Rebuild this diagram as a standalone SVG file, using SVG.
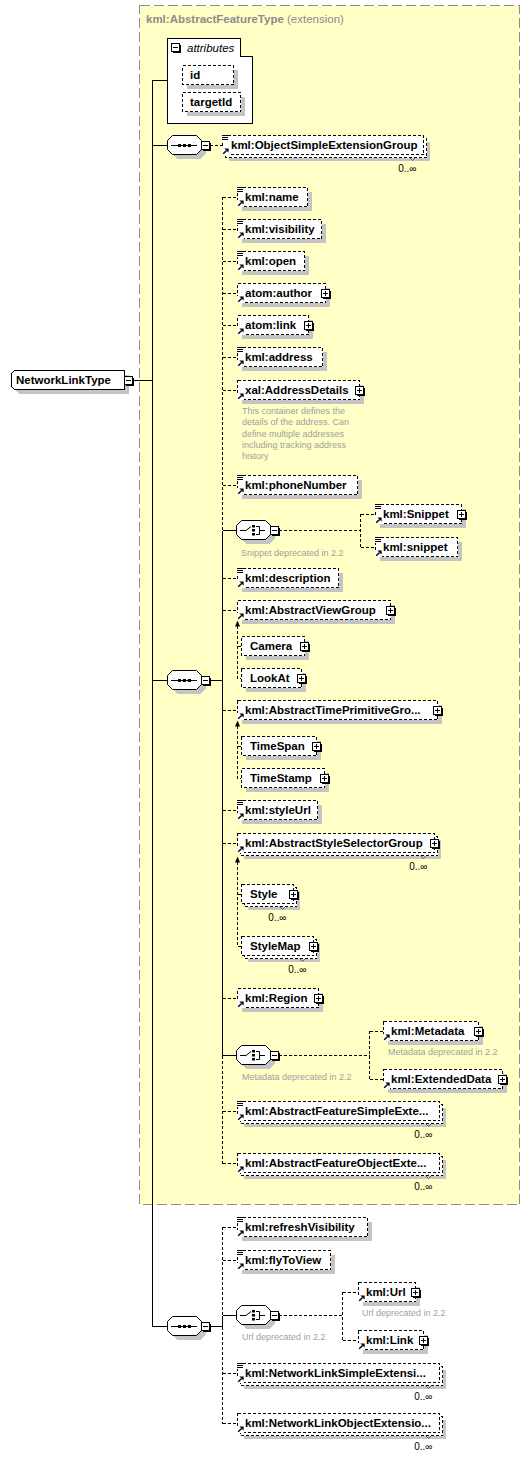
<svg xmlns="http://www.w3.org/2000/svg" width="530" height="1459" viewBox="0 0 530 1459">
<style>
.ext{fill:#ffffc6;stroke:#8c8c8c;stroke-dasharray:10 4;shape-rendering:crispEdges}
.sh{fill:#c4c4c4;shape-rendering:crispEdges}
.el{fill:#fff;stroke:#000;stroke-dasharray:3 2;shape-rendering:crispEdges}
.sol{fill:#fff;stroke:#000;shape-rendering:crispEdges}
.oct{fill:#fff;stroke:#000}
.t{font-family:"Liberation Sans",Arial,sans-serif;font-size:11.5px;font-weight:bold;fill:#000}
.ti{font-family:"Liberation Sans",Arial,sans-serif;font-size:11.5px;font-style:italic;fill:#000}
.hd{font-family:"Liberation Sans",Arial,sans-serif;font-size:11.5px;fill:#8c8c8c}
.n{font-family:"Liberation Sans",Arial,sans-serif;font-size:9px;fill:#a0a0a0}
.m{font-family:"Liberation Sans",Arial,sans-serif;font-size:10px;fill:#000;text-anchor:end}
.c{fill:none;stroke:#000;shape-rendering:crispEdges}
.d{fill:none;stroke:#000;stroke-dasharray:3 2;shape-rendering:crispEdges}
.nt{fill:none;stroke:#444;stroke-width:0.8}
</style>
<defs>
<g id="pl"><rect x="0.5" y="0.5" width="8" height="8" fill="#fff" stroke="#000" shape-rendering="crispEdges"/><path d="M1.5,9.5H9.5V1.5" fill="none" stroke="#000" shape-rendering="crispEdges"/><path d="M2,4.5H7M4.5,2V7" stroke="#000" shape-rendering="crispEdges"/></g>
<g id="mi"><rect x="0.5" y="0.5" width="8" height="8" fill="#fff" stroke="#000" shape-rendering="crispEdges"/><path d="M1.5,9.5H9.5V1.5" fill="none" stroke="#000" shape-rendering="crispEdges"/><path d="M2,4.5H7" stroke="#000" shape-rendering="crispEdges"/></g>
<g id="ie"><rect x="0" y="0" width="7" height="6" fill="#fff"/><path d="M0,0.5H7M0,2.5H6M0,4.5H6" stroke="#000" shape-rendering="crispEdges"/></g>
<g id="ia"><rect x="0" y="-7" width="7" height="7" fill="#fff"/><path d="M1.2,-1.2L4.6,-4.6" stroke="#000" stroke-width="1.4"/><path d="M2.4,-6.6H6.6V-2.4Z" fill="#000"/></g>
</defs>
<rect x="0" y="0" width="530" height="1459" fill="#fff"/>

<g id="extension">
<rect class="ext" x="139.5" y="5.5" width="380" height="1199"/>
<text x="146" y="23" class="hd"><tspan font-weight="bold">kml:AbstractFeatureType</tspan> (extension)</text>
</g>

<g id="connectors">
<path class="c" d="M152.5,80V1327M153,80.5H167M153,145.5H167M153,680.5H167M153,1326.5H167M133,380.5H152"/>
<path class="d" d="M210,145.5H222"/>
<path class="c" d="M210,680.5H222.5M222.5,530.5V1055.5M223,530.5H236.5M223,1055.5H236.5"/>
<path class="d" d="M222.5,197V530M222.5,1056V1163.5"/>
<path class="d" d="M223,197.5H237M223,229.5H237M223,261.5H237M223,293.5H237M223,325.5H237M223,357.5H237M223,390.5H237M223,485.5H237M223,578.5H237M223,610.5H237M223,710.5H237M223,810.5H237M223,843.5H237M223,998.5H237M223,1111.5H237M223,1163.5H237"/>
<path class="d" d="M279,530.5H360.5M360.5,514V547.5M361,514.5H375M361,547.5H375"/>
<path class="d" d="M279,1055.5H369.5M369.5,1031V1079.5M370,1031.5H383M370,1079.5H383"/>
<path class="c" d="M210,1326.5H222.5M222.5,1315.5V1326.5M223,1315.5H236.5"/>
<path class="d" d="M222.5,1227V1315M222.5,1327V1423.5M223,1227.5H237M223,1260.5H237M223,1373.5H237M223,1423.5H237"/>
<path class="d" d="M279,1315.5H342.5M342.5,1292V1340.5M343,1292.5H358M343,1340.5H358"/>
<path class="d" d="M237.5,626V678.5H241M238,646.5H241"/>
<polygon points="235,626.5 240,626.5 237.5,620.5" fill="#000"/>
<path class="d" d="M237.5,726V778.5H241M238,746.5H241"/>
<polygon points="235,726.5 240,726.5 237.5,720.5" fill="#000"/>
<path class="d" d="M237.5,862V946.5H241M238,894.5H241"/>
<polygon points="235,862.5 240,862.5 237.5,856.5" fill="#000"/>
</g>

<g id="NetworkLinkType">
<path class="sh" d="M18.5,374.5H128.5V393.5H18.5L15.5,390.5V377.5Z"/>
<path class="sol" d="M14.5,370.5H124.5V389.5H14.5L11.5,386.5V373.5Z"/>
<text class="t" x="16" y="384">NetworkLinkType</text>
<use href="#mi" x="124" y="376"/>
</g>

<g id="attributes">
<path class="sol" d="M167.5,38.5H240.5V56.5H252.5V123.5H167.5Z"/>
<use href="#mi" x="171" y="43"/>
<text class="ti" x="187" y="52">attributes</text>
</g>
<g id="attr-id">
<rect class="sh" x="186.5" y="69.5" width="51" height="19"/>
<rect class="el" x="182.5" y="65.5" width="51" height="19"/>
<text class="t" x="190" y="79">id</text>
</g>
<g id="attr-targetId">
<rect class="sh" x="186.5" y="96.5" width="58" height="19"/>
<rect class="el" x="182.5" y="92.5" width="58" height="19"/>
<text class="t" x="190" y="106">targetId</text>
</g>

<g id="seq1">
<path class="sh" d="M176.5,139.5H200.5L205.5,144.5V153.5L200.5,158.5H176.5L171.5,153.5V144.5Z"/>
<path class="oct" d="M172.5,135.5H196.5L201.5,140.5V149.5L196.5,154.5H172.5L167.5,149.5V140.5Z"/>
<path class="c" d="M171,145.5H197"/>
<rect x="178" y="144" width="3" height="3"/><rect x="183" y="144" width="3" height="3"/><rect x="188" y="144" width="3" height="3"/>
<use href="#mi" x="201" y="141"/>
</g>

<g id="ObjectSimpleExtensionGroup">
<rect class="sh" x="228.5" y="141.5" width="201" height="19"/>
<rect class="el" x="225.5" y="138.5" width="201" height="19"/>
<rect class="el" x="222.5" y="135.5" width="201" height="19"/>
<use href="#ie" x="222" y="135"/><use href="#ia" x="222" y="155"/>
<text class="t" x="231" y="149">kml:ObjectSimpleExtensionGroup</text>
<path class="nt" d="M409.5,157.5L412.5,160.5L415.5,157.5"/>
<text class="m" x="416.5" y="172">0..∞</text>
</g>

<g id="seq2">
<path class="sh" d="M176.5,674.5H200.5L205.5,679.5V688.5L200.5,693.5H176.5L171.5,688.5V679.5Z"/>
<path class="oct" d="M172.5,670.5H196.5L201.5,675.5V684.5L196.5,689.5H172.5L167.5,684.5V675.5Z"/>
<path class="c" d="M171,680.5H197"/>
<rect x="178" y="679" width="3" height="3"/><rect x="183" y="679" width="3" height="3"/><rect x="188" y="679" width="3" height="3"/>
<use href="#mi" x="201" y="676"/>
</g>

<g id="kml-name">
<rect class="sh" x="241.5" y="191.5" width="70" height="19"/><rect class="el" x="237.5" y="187.5" width="70" height="19"/>
<use href="#ie" x="237" y="187"/><use href="#ia" x="237" y="207"/>
<text class="t" x="245" y="201">kml:name</text>
</g>
<g id="kml-visibility">
<rect class="sh" x="241.5" y="223.5" width="84" height="19"/><rect class="el" x="237.5" y="219.5" width="84" height="19"/>
<use href="#ie" x="237" y="219"/><use href="#ia" x="237" y="239"/>
<text class="t" x="245" y="233">kml:visibility</text>
</g>
<g id="kml-open">
<rect class="sh" x="241.5" y="255.5" width="67" height="19"/><rect class="el" x="237.5" y="251.5" width="67" height="19"/>
<use href="#ie" x="237" y="251"/><use href="#ia" x="237" y="271"/>
<text class="t" x="245" y="265">kml:open</text>
</g>
<g id="atom-author">
<rect class="sh" x="241.5" y="287.5" width="88" height="19"/><rect class="el" x="237.5" y="283.5" width="88" height="19"/>
<use href="#ia" x="237" y="303"/>
<text class="t" x="245" y="297">atom:author</text>
<use href="#pl" x="321" y="289"/>
</g>
<g id="atom-link">
<rect class="sh" x="241.5" y="319.5" width="71" height="19"/><rect class="el" x="237.5" y="315.5" width="71" height="19"/>
<use href="#ia" x="237" y="335"/>
<text class="t" x="245" y="329">atom:link</text>
<use href="#pl" x="304" y="321"/>
</g>
<g id="kml-address">
<rect class="sh" x="241.5" y="351.5" width="85" height="19"/><rect class="el" x="237.5" y="347.5" width="85" height="19"/>
<use href="#ie" x="237" y="347"/><use href="#ia" x="237" y="367"/>
<text class="t" x="245" y="361">kml:address</text>
</g>
<g id="xal-AddressDetails">
<rect class="sh" x="241.5" y="384.5" width="122" height="19"/><rect class="el" x="237.5" y="380.5" width="122" height="19"/>
<use href="#ia" x="237" y="400"/>
<text class="t" x="245" y="394">xal:AddressDetails</text>
<use href="#pl" x="355" y="386"/>
<text class="n" x="242" y="414">This container defines the</text>
<text class="n" x="242" y="425.3">details of the address. Can</text>
<text class="n" x="242" y="436.6">define multiple addresses</text>
<text class="n" x="242" y="447.9">including tracking address</text>
<text class="n" x="242" y="459.2">history</text>
</g>
<g id="kml-phoneNumber">
<rect class="sh" x="241.5" y="479.5" width="120" height="19"/><rect class="el" x="237.5" y="475.5" width="120" height="19"/>
<use href="#ie" x="237" y="475"/><use href="#ia" x="237" y="495"/>
<text class="t" x="245" y="489">kml:phoneNumber</text>
</g>

<g id="choice1">
<path class="sh" d="M245.5,524.5H269.5L274.5,529.5V538.5L269.5,543.5H245.5L240.5,538.5V529.5Z"/>
<path class="oct" d="M241.5,520.5H265.5L270.5,525.5V534.5L265.5,539.5H241.5L236.5,534.5V525.5Z"/>
<path d="M240,530.5H246L251,526.5M256,526.5H259.5V534.5H256M259.5,530.5H265" fill="none" stroke="#000"/>
<rect x="252" y="525" width="3" height="2.5"/><rect x="252" y="529" width="3" height="2.5"/><rect x="252" y="533" width="3" height="2.5"/>
<use href="#mi" x="270" y="526"/>
<text class="n" x="241" y="556">Snippet deprecated in 2.2</text>
</g>
<g id="kml-Snippet">
<rect class="sh" x="379.5" y="508.5" width="86" height="19"/><rect class="el" x="375.5" y="504.5" width="86" height="19"/>
<use href="#ie" x="375" y="504"/><use href="#ia" x="375" y="524"/>
<text class="t" x="383" y="518">kml:Snippet</text>
<use href="#pl" x="457" y="510"/>
</g>
<g id="kml-snippet">
<rect class="sh" x="379.5" y="541.5" width="82" height="19"/><rect class="el" x="375.5" y="537.5" width="82" height="19"/>
<use href="#ie" x="375" y="537"/><use href="#ia" x="375" y="557"/>
<text class="t" x="383" y="551">kml:snippet</text>
</g>

<g id="kml-description">
<rect class="sh" x="241.5" y="572.5" width="101" height="19"/><rect class="el" x="237.5" y="568.5" width="101" height="19"/>
<use href="#ie" x="237" y="568"/><use href="#ia" x="237" y="588"/>
<text class="t" x="245" y="582">kml:description</text>
</g>
<g id="kml-AbstractViewGroup">
<rect class="sh" x="241.5" y="604.5" width="153" height="19"/><rect class="el" x="237.5" y="600.5" width="153" height="19"/>
<use href="#ia" x="237" y="620"/>
<text class="t" x="245" y="614">kml:AbstractViewGroup</text>
<use href="#pl" x="386" y="606"/>
</g>
<g id="Camera">
<rect class="sh" x="245.5" y="640.5" width="63" height="19"/><rect class="el" x="241.5" y="636.5" width="63" height="19"/>
<text class="t" x="250" y="650">Camera</text>
<use href="#pl" x="300" y="642"/>
</g>
<g id="LookAt">
<rect class="sh" x="245.5" y="672.5" width="60" height="19"/><rect class="el" x="241.5" y="668.5" width="60" height="19"/>
<text class="t" x="250" y="682">LookAt</text>
<use href="#pl" x="297" y="674"/>
</g>
<g id="kml-AbstractTimePrimitiveGroup">
<rect class="sh" x="241.5" y="704.5" width="200" height="19"/><rect class="el" x="237.5" y="700.5" width="200" height="19"/>
<use href="#ia" x="237" y="720"/>
<text class="t" x="245" y="714">kml:AbstractTimePrimitiveGro...</text>
<use href="#pl" x="433" y="706"/>
</g>
<g id="TimeSpan">
<rect class="sh" x="245.5" y="740.5" width="75" height="19"/><rect class="el" x="241.5" y="736.5" width="75" height="19"/>
<text class="t" x="250" y="750">TimeSpan</text>
<use href="#pl" x="312" y="742"/>
</g>
<g id="TimeStamp">
<rect class="sh" x="245.5" y="772.5" width="83" height="19"/><rect class="el" x="241.5" y="768.5" width="83" height="19"/>
<text class="t" x="250" y="782">TimeStamp</text>
<use href="#pl" x="320" y="774"/>
</g>
<g id="kml-styleUrl">
<rect class="sh" x="241.5" y="804.5" width="80" height="19"/><rect class="el" x="237.5" y="800.5" width="80" height="19"/>
<use href="#ie" x="237" y="800"/><use href="#ia" x="237" y="820"/>
<text class="t" x="245" y="814">kml:styleUrl</text>
</g>
<g id="kml-AbstractStyleSelectorGroup">
<rect class="sh" x="243.5" y="839.5" width="197" height="19"/>
<rect class="el" x="240.5" y="836.5" width="197" height="19"/>
<rect class="el" x="237.5" y="833.5" width="197" height="19"/>
<use href="#ia" x="237" y="853"/>
<text class="t" x="245" y="847">kml:AbstractStyleSelectorGroup</text>
<use href="#pl" x="430" y="839"/>
<path class="nt" d="M420.5,855.5L423.5,858.5L426.5,855.5"/>
<text class="m" x="427.5" y="870">0..∞</text>
</g>
<g id="Style">
<rect class="sh" x="247.5" y="890.5" width="52" height="19"/>
<rect class="el" x="244.5" y="887.5" width="52" height="19"/>
<rect class="el" x="241.5" y="884.5" width="52" height="19"/>
<text class="t" x="250" y="898">Style</text>
<use href="#pl" x="289" y="890"/>
<path class="nt" d="M279.5,906.5L282.5,909.5L285.5,906.5"/>
<text class="m" x="286.5" y="921">0..∞</text>
</g>
<g id="StyleMap">
<rect class="sh" x="247.5" y="942.5" width="72" height="19"/>
<rect class="el" x="244.5" y="939.5" width="72" height="19"/>
<rect class="el" x="241.5" y="936.5" width="72" height="19"/>
<text class="t" x="250" y="950">StyleMap</text>
<use href="#pl" x="309" y="942"/>
<path class="nt" d="M299.5,958.5L302.5,961.5L305.5,958.5"/>
<text class="m" x="306.5" y="973">0..∞</text>
</g>
<g id="kml-Region">
<rect class="sh" x="241.5" y="992.5" width="81" height="19"/><rect class="el" x="237.5" y="988.5" width="81" height="19"/>
<use href="#ia" x="237" y="1008"/>
<text class="t" x="245" y="1002">kml:Region</text>
<use href="#pl" x="314" y="994"/>
</g>

<g id="choice2">
<path class="sh" d="M245.5,1049.5H269.5L274.5,1054.5V1063.5L269.5,1068.5H245.5L240.5,1063.5V1054.5Z"/>
<path class="oct" d="M241.5,1045.5H265.5L270.5,1050.5V1059.5L265.5,1064.5H241.5L236.5,1059.5V1050.5Z"/>
<path d="M240,1055.5H246L251,1051.5M256,1051.5H259.5V1059.5H256M259.5,1055.5H265" fill="none" stroke="#000"/>
<rect x="252" y="1050" width="3" height="2.5"/><rect x="252" y="1054" width="3" height="2.5"/><rect x="252" y="1058" width="3" height="2.5"/>
<use href="#mi" x="270" y="1051"/>
<text class="n" x="242" y="1080">Metadata deprecated in 2.2</text>
</g>
<g id="kml-Metadata">
<rect class="sh" x="387.5" y="1025.5" width="95" height="19"/><rect class="el" x="383.5" y="1021.5" width="95" height="19"/>
<use href="#ia" x="383" y="1041"/>
<text class="t" x="391" y="1035">kml:Metadata</text>
<use href="#pl" x="474" y="1027"/>
<text class="n" x="388" y="1055">Metadata deprecated in 2.2</text>
</g>
<g id="kml-ExtendedData">
<rect class="sh" x="387.5" y="1073.5" width="119" height="19"/><rect class="el" x="383.5" y="1069.5" width="119" height="19"/>
<use href="#ia" x="383" y="1089"/>
<text class="t" x="391" y="1083">kml:ExtendedData</text>
<use href="#pl" x="498" y="1075"/>
</g>

<g id="kml-AbstractFeatureSimpleExtensionGroup">
<rect class="sh" x="243.5" y="1107.5" width="202" height="19"/>
<rect class="el" x="240.5" y="1104.5" width="202" height="19"/>
<rect class="el" x="237.5" y="1101.5" width="202" height="19"/>
<use href="#ie" x="237" y="1101"/><use href="#ia" x="237" y="1121"/>
<text class="t" x="245" y="1115">kml:AbstractFeatureSimpleExte...</text>
<path class="nt" d="M425.5,1123.5L428.5,1126.5L431.5,1123.5"/>
<text class="m" x="432.5" y="1138">0..∞</text>
</g>
<g id="kml-AbstractFeatureObjectExtensionGroup">
<rect class="sh" x="243.5" y="1159.5" width="202" height="19"/>
<rect class="el" x="240.5" y="1156.5" width="202" height="19"/>
<rect class="el" x="237.5" y="1153.5" width="202" height="19"/>
<use href="#ia" x="237" y="1173"/>
<text class="t" x="245" y="1167">kml:AbstractFeatureObjectExte...</text>
<path class="nt" d="M425.5,1175.5L428.5,1178.5L431.5,1175.5"/>
<text class="m" x="432.5" y="1190">0..∞</text>
</g>

<g id="seq3">
<path class="sh" d="M176.5,1320.5H200.5L205.5,1325.5V1334.5L200.5,1339.5H176.5L171.5,1334.5V1325.5Z"/>
<path class="oct" d="M172.5,1316.5H196.5L201.5,1321.5V1330.5L196.5,1335.5H172.5L167.5,1330.5V1321.5Z"/>
<path class="c" d="M171,1326.5H197"/>
<rect x="178" y="1325" width="3" height="3"/><rect x="183" y="1325" width="3" height="3"/><rect x="188" y="1325" width="3" height="3"/>
<use href="#mi" x="201" y="1322"/>
</g>
<g id="kml-refreshVisibility">
<rect class="sh" x="241.5" y="1221.5" width="130" height="19"/><rect class="el" x="237.5" y="1217.5" width="130" height="19"/>
<use href="#ie" x="237" y="1217"/><use href="#ia" x="237" y="1237"/>
<text class="t" x="245" y="1231">kml:refreshVisibility</text>
</g>
<g id="kml-flyToView">
<rect class="sh" x="241.5" y="1254.5" width="93" height="19"/><rect class="el" x="237.5" y="1250.5" width="93" height="19"/>
<use href="#ie" x="237" y="1250"/><use href="#ia" x="237" y="1270"/>
<text class="t" x="245" y="1264">kml:flyToView</text>
</g>
<g id="choice3">
<path class="sh" d="M245.5,1309.5H269.5L274.5,1314.5V1323.5L269.5,1328.5H245.5L240.5,1323.5V1314.5Z"/>
<path class="oct" d="M241.5,1305.5H265.5L270.5,1310.5V1319.5L265.5,1324.5H241.5L236.5,1319.5V1310.5Z"/>
<path d="M240,1315.5H246L251,1311.5M256,1311.5H259.5V1319.5H256M259.5,1315.5H265" fill="none" stroke="#000"/>
<rect x="252" y="1310" width="3" height="2.5"/><rect x="252" y="1314" width="3" height="2.5"/><rect x="252" y="1318" width="3" height="2.5"/>
<use href="#mi" x="270" y="1311"/>
<text class="n" x="242" y="1340">Url deprecated in 2.2</text>
</g>
<g id="kml-Url">
<rect class="sh" x="362.5" y="1286.5" width="57" height="19"/><rect class="el" x="358.5" y="1282.5" width="57" height="19"/>
<use href="#ia" x="358" y="1302"/>
<text class="t" x="366" y="1296">kml:Url</text>
<use href="#pl" x="411" y="1288"/>
<text class="n" x="362" y="1316">Url deprecated in 2.2</text>
</g>
<g id="kml-Link">
<rect class="sh" x="362.5" y="1334.5" width="65" height="19"/><rect class="el" x="358.5" y="1330.5" width="65" height="19"/>
<use href="#ia" x="358" y="1350"/>
<text class="t" x="366" y="1344">kml:Link</text>
<use href="#pl" x="419" y="1336"/>
</g>
<g id="kml-NetworkLinkSimpleExtensionGroup">
<rect class="sh" x="243.5" y="1369.5" width="202" height="19"/>
<rect class="el" x="240.5" y="1366.5" width="202" height="19"/>
<rect class="el" x="237.5" y="1363.5" width="202" height="19"/>
<use href="#ie" x="237" y="1363"/><use href="#ia" x="237" y="1383"/>
<text class="t" x="245" y="1377">kml:NetworkLinkSimpleExtensi...</text>
<path class="nt" d="M425.5,1385.5L428.5,1388.5L431.5,1385.5"/>
<text class="m" x="432.5" y="1400">0..∞</text>
</g>
<g id="kml-NetworkLinkObjectExtensionGroup">
<rect class="sh" x="243.5" y="1419.5" width="202" height="19"/>
<rect class="el" x="240.5" y="1416.5" width="202" height="19"/>
<rect class="el" x="237.5" y="1413.5" width="202" height="19"/>
<use href="#ia" x="237" y="1433"/>
<text class="t" x="245" y="1427">kml:NetworkLinkObjectExtensio...</text>
<path class="nt" d="M425.5,1435.5L428.5,1438.5L431.5,1435.5"/>
<text class="m" x="432.5" y="1450">0..∞</text>
</g>
</svg>
